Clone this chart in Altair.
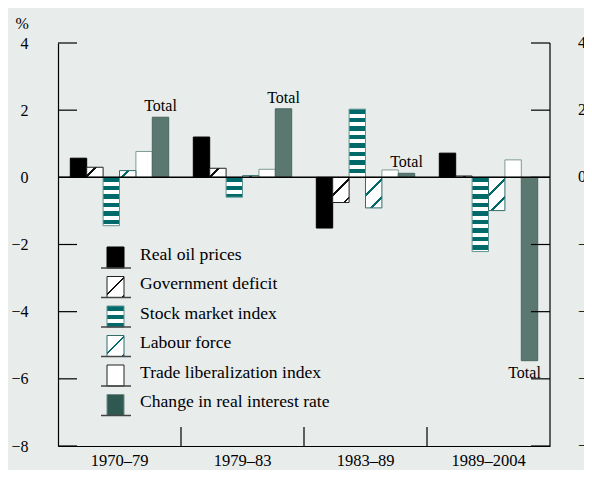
import altair as alt
import pandas as pd

# ---------------- data ----------------
periods = ["1970–79", "1979–83", "1983–89", "1989–2004"]
series = [
    "Real oil prices",
    "Government deficit",
    "Stock market index",
    "Labour force",
    "Trade liberalization index",
    "Change in real interest rate",
]
real_oil = [0.57, 1.20, -1.51, 0.72]
gov_deficit = [0.30, 0.27, -0.75, 0.04]
stock_market = [-1.44, -0.59, 2.03, -2.21]
labour_force = [0.20, 0.05, -0.91, -0.99]
trade_lib = [0.77, 0.24, 0.22, 0.52]
change_rate = [1.79, 2.04, 0.12, -5.46]
y_ticks = [-8, -6, -4, -2, 0, 2, 4]
total_label = "Total"

# ---------------- style ----------------
FONT = "Liberation Serif"
BG = "#E8ECEB"
TEAL = "#006A6A"
STYLE = {
    "Real oil prices": dict(kind="solid", fill="#000000", stroke="#000000",
                            lfill="#000000", lstroke="#000000"),
    "Government deficit": dict(kind="diag", line="#111111", stroke="#222222",
                               lstroke="#222222"),
    "Stock market index": dict(kind="stripe", line=TEAL, stroke="#5E9592",
                               lstroke="#5E9592"),
    "Labour force": dict(kind="diag", line=TEAL, stroke="#2F6E6B",
                         lstroke="#2F6E6B"),
    "Trade liberalization index": dict(kind="solid", fill="#FFFFFF", stroke="#7F9A94",
                                       lfill="#FFFFFF", lstroke="#222222"),
    "Change in real interest rate": dict(kind="solid", fill="#5A7770", stroke="#4A675F",
                                         lfill="#2E5850", lstroke="#6E8A84"),
}

W, H = 492, 403
PAD = {"left": 50, "top": 35, "right": 34, "bottom": 24}
Y_DOMAIN = [-8, 4]
PPU = H / (Y_DOMAIN[1] - Y_DOMAIN[0])
STEP = W / (len(periods) - 0.2 + 2 * 0.1)
BAR_W = STEP * 0.8 / len(series)


def diag_gradient(w, h, color, phase, period=18.5, th=2.7):
    L = w + h
    k = w * w + h * h
    stops = [{"offset": 0, "color": "#FFFFFF"}]
    P = phase
    while P - th / 2 < L:
        a = max(0.0, (P - th / 2) / L)
        b = min(1.0, (P + th / 2) / L)
        stops += [{"offset": a, "color": "#FFFFFF"}, {"offset": a, "color": color},
                  {"offset": b, "color": color}, {"offset": b, "color": "#FFFFFF"}]
        P += period
    stops.append({"offset": 1, "color": "#FFFFFF"})
    return {"gradient": "linear", "x1": 0, "y1": 0,
            "x2": w * L / k, "y2": h * L / k, "stops": stops}


def stripe_gradient(h, color, per=8.5, band=4.5):
    stops = [{"offset": 0, "color": color}]
    kk = 0
    while True:
        a = kk * per + band
        if a >= h:
            break
        b = min((kk + 1) * per, h)
        stops += [{"offset": a / h, "color": color}, {"offset": a / h, "color": "#FFFFFF"},
                  {"offset": b / h, "color": "#FFFFFF"}, {"offset": b / h, "color": color}]
        kk += 1
    stops.append({"offset": 1, "color": color})
    return {"gradient": "linear", "x1": 0, "y1": 0, "x2": 0, "y2": 1, "stops": stops}


def pattern_fill(kind, color, w, h, phase):
    if kind == "diag":
        return diag_gradient(w, h, color, phase)
    return stripe_gradient(h, color)


rows = []
values_by_series = [real_oil, gov_deficit, stock_market, labour_force, trade_lib, change_rate]
for si, (s, vals) in enumerate(zip(series, values_by_series)):
    st = STYLE[s]
    for pi, (p, v) in enumerate(zip(periods, vals)):
        rows.append(dict(period=p, series=s, value=v, id=f"{si}_{pi}", kind=st["kind"],
                         fill=st.get("fill", "#FFFFFF"), stroke=st["stroke"]))
df = pd.DataFrame(rows)

# ---------------- encodings ----------------
x_axis = alt.Axis(title=None, ticks=False, labelAngle=0, labelFont=FONT, labelFontSize=16.5,
                  labelColor="black", labelPadding=6, domainColor="black", domainWidth=1.2,
                  labelBaseline="top")
y_axis = alt.Axis(values=y_ticks, title="%", titleAngle=0, titleX=-43, titleY=-15,
                  titleAlign="left", titleBaseline="alphabetic", titleFont=FONT,
                  titleFontSize=16, titleFontWeight="normal", titleColor="black",
                  ticks=False, grid=False, domainColor="black", domainWidth=1.2,
                  labelFont=FONT, labelFontSize=16, labelColor="black", labelPadding=30)
x_scale = alt.Scale(domain=periods, paddingInner=0.2, paddingOuter=0.1)
y_scale = alt.Scale(domain=Y_DOMAIN, nice=False)

x_enc = alt.X("period:N", sort=periods, scale=x_scale, axis=x_axis)
xo_enc = alt.XOffset("series:N", sort=series,
                     scale=alt.Scale(domain=series, paddingInner=0, paddingOuter=0))
y_enc = alt.Y("value:Q", scale=y_scale, axis=y_axis)
y2_enc = alt.Y2(datum=0)

base = alt.Chart(df)

layers = []
plain = base.transform_filter(alt.datum.kind == "solid").mark_bar(strokeWidth=1).encode(
    x=x_enc, xOffset=xo_enc, y=y_enc, y2=y2_enc,
    fill=alt.Fill("fill:N", scale=None), stroke=alt.Stroke("stroke:N", scale=None))
layers.append(plain)

for r in rows:
    if r["kind"] == "solid":
        continue
    st = STYLE[r["series"]]
    h = abs(r["value"]) * PPU
    phase = 9 if r["value"] >= 0 else 18
    grad = pattern_fill(r["kind"], st["line"], BAR_W, h, phase)
    lay = base.transform_filter(alt.datum.id == r["id"]).mark_bar(
        fill=grad, stroke=st["stroke"], strokeWidth=1).encode(
        x=x_enc, xOffset=xo_enc, y=y_enc, y2=y2_enc)
    layers.append(lay)

# zero line
tick_df = pd.DataFrame({"tick": y_ticks,
                        "lab": [str(t).replace("-", "\u2212") for t in y_ticks]})
tick_y = alt.Y("tick:Q", scale=y_scale, axis=y_axis)
zero = alt.Chart(tick_df).transform_filter(alt.datum.tick == 0).mark_rule(
    color="black", strokeWidth=1.5).encode(y=tick_y, x=alt.value(0), x2=alt.value(W))
layers.append(zero)

# inward ticks left & right
lticks = alt.Chart(tick_df).mark_rule(color="black", strokeWidth=1.2).encode(
    y=tick_y, x=alt.value(0), x2=alt.value(19))
rticks = alt.Chart(tick_df).mark_rule(color="black", strokeWidth=1.2).encode(
    y=tick_y, x=alt.value(W - 19), x2=alt.value(W))
rdomain = alt.Chart(tick_df).transform_filter(alt.datum.tick == 0).mark_rule(
    color="black", strokeWidth=1.2).encode(x=alt.value(W), y=alt.value(0), y2=alt.value(H))
rlabels = alt.Chart(tick_df).mark_text(align="left", baseline="middle", font=FONT,
                                       fontSize=16, color="black").encode(
    y=tick_y, x=alt.value(W + 28), text="lab:N")
layers += [lticks, rticks, rdomain, rlabels]

# bottom ticks at band boundaries
bnd_df = pd.DataFrame({"bx": [STEP * k for k in range(1, len(periods))]})
bticks = alt.Chart(bnd_df).mark_rule(color="black", strokeWidth=1.2).encode(
    x=alt.X("bx:Q", scale=None, axis=None), y=alt.value(H - 19), y2=alt.value(H))
layers.append(bticks)

# Total labels
tot_pos = base.transform_filter(
    (alt.datum.series == series[5]) & (alt.datum.value >= 0)).mark_text(
    baseline="alphabetic", dy=-6, font=FONT, fontSize=16, color="black").encode(
    x=x_enc, xOffset=xo_enc, y=y_enc, text=alt.value(total_label))
tot_neg = base.transform_filter(
    (alt.datum.series == series[5]) & (alt.datum.value < 0)).mark_text(
    baseline="alphabetic", dy=17, dx=-5, font=FONT, fontSize=16, color="black").encode(
    x=x_enc, xOffset=xo_enc, y=y_enc, text=alt.value(total_label))
layers += [tot_pos, tot_neg]

# ---------------- legend ----------------
LEG_TOP, LEG_STEP, SW_H = 204, 29.5, 21
SW_X0, SW_X1 = 49, 66
leg_rows = []
for i, s in enumerate(series):
    st = STYLE[s]
    top = LEG_TOP + LEG_STEP * i
    leg_rows.append(dict(label=s, kind=st["kind"], ly=top, ly2=top + SW_H, lt=top + 7.5,
                         lfill=st.get("lfill", "#FFFFFF"), lstroke=st["lstroke"]))
leg_df = pd.DataFrame(leg_rows)
leg = alt.Chart(leg_df)

leg_plain = leg.transform_filter(alt.datum.kind == "solid").mark_rect(strokeWidth=1).encode(
    x=alt.value(SW_X0), x2=alt.value(SW_X1),
    y=alt.Y("ly:Q", scale=None, axis=None), y2="ly2:Q",
    fill=alt.Fill("lfill:N", scale=None), stroke=alt.Stroke("lstroke:N", scale=None))
layers.append(leg_plain)
for r in leg_rows:
    if r["kind"] == "solid":
        continue
    st = STYLE[r["label"]]
    grad = pattern_fill(r["kind"], st["line"], SW_X1 - SW_X0, SW_H, 18)
    lay = leg.transform_filter(alt.datum.label == r["label"]).mark_rect(
        fill=grad, stroke=st["lstroke"], strokeWidth=1).encode(
        x=alt.value(SW_X0), x2=alt.value(SW_X1),
        y=alt.Y("ly:Q", scale=None, axis=None), y2="ly2:Q")
    layers.append(lay)

leg_line = leg.mark_rule(color="#444444", strokeWidth=1.5).encode(
    x=alt.value(SW_X0 - 6), x2=alt.value(SW_X1 + 7),
    y=alt.Y("ly2:Q", scale=None, axis=None))
leg_text = leg.mark_text(align="left", baseline="middle", font=FONT, fontSize=17.6,
                         color="black").encode(
    x=alt.value(82), y=alt.Y("lt:Q", scale=None, axis=None), text="label:N")
layers += [leg_line, leg_text]

chart = alt.layer(*layers).properties(
    width=W, height=H,
    autosize=alt.AutoSizeParams(type="none"),
    padding=PAD,
    background=BG,
).configure_view(stroke=None)

chart.save("out.html", embed_options={"renderer": "svg", "actions": False})
